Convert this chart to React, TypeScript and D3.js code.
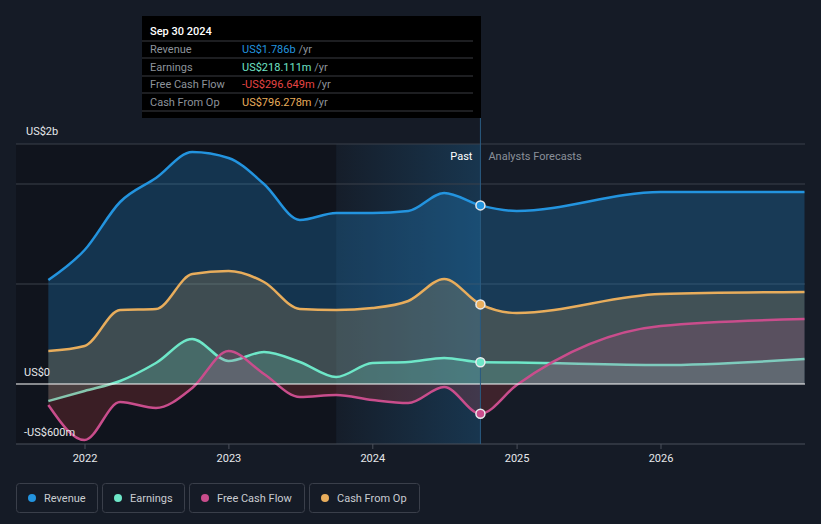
import * as d3 from "d3"

// quarterly trailing values (past) followed by annual analyst forecasts, in US$ billions
const dates = [
  "2021-09-30", "2021-12-31", "2022-03-31", "2022-06-30", "2022-09-30",
  "2022-12-31", "2023-03-31", "2023-06-30", "2023-09-30", "2023-12-31",
  "2024-03-31", "2024-06-30", "2024-09-30",
  "2024-12-31", "2025-12-31", "2026-12-31",
]
const revenue = [1.04, 1.34, 1.82, 2.06, 2.32, 2.26, 2.0, 1.64, 1.71, 1.71, 1.73, 1.91, 1.786, 1.73, 1.92, 1.92]
const earnings = [-0.17, -0.07, 0.03, 0.21, 0.45, 0.23, 0.32, 0.22, 0.07, 0.21, 0.22, 0.26, 0.218, 0.215, 0.19, 0.25]
const freeCashFlow = [-0.21, -0.56, -0.18, -0.24, -0.04, 0.33, 0.1, -0.13, -0.11, -0.16, -0.19, -0.03, -0.297, -0.01, 0.58, 0.65]
const cashFromOp = [0.33, 0.38, 0.74, 0.75, 1.1, 1.13, 1.02, 0.75, 0.74, 0.76, 0.83, 1.05, 0.796, 0.71, 0.9, 0.92]

const yearTicks = [2022, 2023, 2024, 2025, 2026]
const gridValues = [2.4, 2, 1]
const hoverIndex = 12
const bandStart = "2023-09-30"

const tooltipRows = [
  { label: "Revenue", value: "US$1.786b", color: "#2394df" },
  { label: "Earnings", value: "US$218.111m", color: "#6fe3c6" },
  { label: "Free Cash Flow", value: "-US$296.649m", color: "#e64545" },
  { label: "Cash From Op", value: "US$796.278m", color: "#e8ad5c" },
]

const series = [
  { name: "Revenue", values: revenue, color: "#2394df", fill: "#2394df", fillOpacity: 0.26 },
  { name: "Cash From Op", values: cashFromOp, color: "#e8ad5c", fill: "#e8ad5c", fillOpacity: 0.2 },
  { name: "Earnings", values: earnings, color: "#6ee7c8", fill: "#6ee7c8", fillOpacity: 0.2 },
  { name: "Free Cash Flow", values: freeCashFlow, color: "#c94d8c", fill: "#c94d8c", fillOpacity: 0.18 },
]

const legend = [
  { name: "Revenue", color: "#2394df", w: 81 },
  { name: "Earnings", color: "#6ee7c8", w: 82 },
  { name: "Free Cash Flow", color: "#c94d8c", w: 115 },
  { name: "Cash From Op", color: "#e8ad5c", w: 110 },
]

const W = 821
const H = 524
const font = "Roboto, 'Noto Sans', sans-serif"

export default function App() {
  const parse = d3.timeParse("%Y-%m-%d")
  const ts = dates.map((d) => parse(d) as Date)

  const x = d3
    .scaleTime()
    .domain([new Date(2022, 0, 1), new Date(2026, 0, 1)])
    .range([85, 661])
  const y = d3.scaleLinear().domain([0, 2]).range([384, 184])

  const left = 16
  const right = 805
  const top = 144
  const bottom = 444
  const xHover = x(ts[hoverIndex])
  const xBand = x(parse(bandStart) as Date)

  const line = (vals: number[]) =>
    d3
      .line<number>()
      .x((_, i) => x(ts[i]))
      .y((v) => y(v))
      .curve(d3.curveMonotoneX)(vals) || ""
  const area = (vals: number[]) =>
    d3
      .area<number>()
      .x((_, i) => x(ts[i]))
      .y0(y(0))
      .y1((v) => y(v))
      .curve(d3.curveMonotoneX)(vals) || ""

  return (
    <svg
      width={W}
      height={H}
      style={{ position: "absolute", left: 0, top: 0, background: "#151b26", fontFamily: font }}
    >
      <defs>
        <linearGradient id="band" x1="0" x2="1" y1="0" y2="0">
          <stop offset="0" stopColor="#2394df" stopOpacity={0.02} />
          <stop offset="1" stopColor="#2394df" stopOpacity={0.22} />
        </linearGradient>
        <clipPath id="above">
          <rect x={0} y={0} width={W} height={y(0)} />
        </clipPath>
        <clipPath id="below">
          <rect x={0} y={y(0)} width={W} height={H} />
        </clipPath>
      </defs>

      {/* past shading */}
      <rect x={left} y={top} width={xBand - left} height={bottom - top} fill="#0b0e14" opacity={0.5} />
      <rect x={xBand} y={top} width={xHover - xBand} height={bottom - top} fill="url(#band)" />

      {/* grid */}
      {gridValues.map((g) => (
        <line key={g} x1={left} x2={right} y1={y(g)} y2={y(g)} stroke="#3a404b" strokeWidth={1} />
      ))}

      {/* series */}
      {series.map((s) => (
        <g key={s.name}>
          {s.name === "Free Cash Flow" ? (
            <>
              <path d={area(s.values)} fill={s.fill} fillOpacity={s.fillOpacity} clipPath="url(#above)" />
              <path d={area(s.values)} fill="#e64545" fillOpacity={0.2} clipPath="url(#below)" />
            </>
          ) : (
            <path d={area(s.values)} fill={s.fill} fillOpacity={s.fillOpacity} />
          )}
          <path d={line(s.values)} fill="none" stroke={s.color} strokeWidth={2.5} />
        </g>
      ))}

      {/* zero line and x axis */}
      <line x1={left} x2={right} y1={y(0)} y2={y(0)} stroke="#ffffff" strokeWidth={1} />
      <line x1={left} x2={right} y1={bottom} y2={bottom} stroke="#4a505b" strokeWidth={1} />
      {yearTicks.map((yr) => {
        const xt = x(new Date(yr, 0, 1))
        return (
          <g key={yr}>
            <line x1={xt} x2={xt} y1={bottom} y2={bottom + 5} stroke="#4a505b" />
            <text x={xt} y={462} fill="#e6e8eb" fontSize={11} textAnchor="middle">
              {yr}
            </text>
          </g>
        )
      })}

      {/* y labels */}
      <text x={26} y={135} fill="#e6e8eb" fontSize={11}>US$2b</text>
      <text x={24} y={376} fill="#e6e8eb" fontSize={11}>US$0</text>
      <text x={24} y={436} fill="#e6e8eb" fontSize={11}>-US$600m</text>

      {/* past / forecast */}
      <line x1={xHover} x2={xHover} y1={16} y2={bottom} stroke="#2a5a80" strokeWidth={1} />
      <text x={xHover - 8} y={160} fill="#ffffff" fontSize={11} textAnchor="end">Past</text>
      <text x={xHover + 8} y={160} fill="#8a9099" fontSize={11}>Analysts Forecasts</text>

      {/* hover points */}
      {series.map((s) => (
        <circle
          key={s.name}
          cx={xHover}
          cy={y(s.values[hoverIndex])}
          r={4.5}
          fill={s.color}
          stroke="#e8eaed"
          strokeWidth={1.5}
        />
      ))}

      {/* tooltip */}
      <rect x={142} y={16} width={339} height={102} fill="#000000" />
      <text x={150} y={35} fill="#ffffff" fontSize={11} fontWeight={500}>Sep 30 2024</text>
      {[41, 58, 76, 93, 111].map((ly) => (
        <line key={ly} x1={142} x2={473} y1={ly} y2={ly} stroke="#3a3d42" strokeWidth={1} />
      ))}
      {tooltipRows.map((r, i) => (
        <g key={r.label}>
          <text x={150} y={53 + i * 17.5} fill="#8d939b" fontSize={11}>{r.label}</text>
          <text x={242} y={53 + i * 17.5} fontSize={11}>
            <tspan fill={r.color}>{r.value}</tspan>
            <tspan fill="#8d939b"> /yr</tspan>
          </text>
        </g>
      ))}

      {/* legend */}
      {legend.map((l, i) => {
        const lx = 16 + legend.slice(0, i).reduce((a, b) => a + b.w + 5, 0)
        return (
          <g key={l.name} transform={`translate(${lx},483)`}>
            <rect x={0.5} y={0.5} width={l.w} height={29} rx={3} fill="none" stroke="#3a3f4a" />
            <circle cx={16} cy={15} r={4} fill={l.color} />
            <text x={28} y={19} fill="#c9ccd1" fontSize={11}>{l.name}</text>
          </g>
        )
      })}
    </svg>
  )
}
